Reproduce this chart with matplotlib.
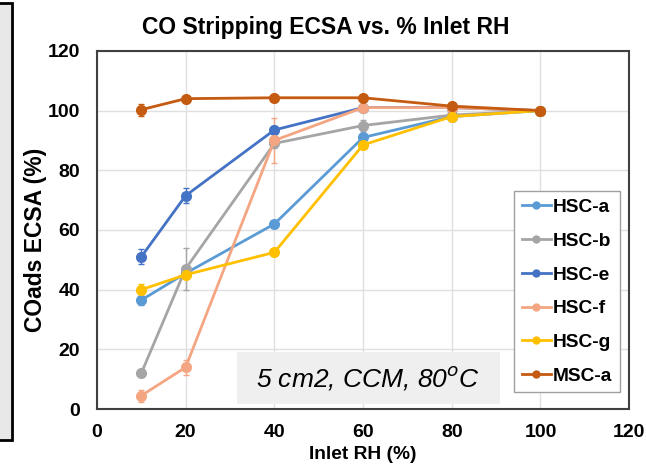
import matplotlib.pyplot as plt
from matplotlib.patches import Rectangle
from matplotlib.lines import Line2D

rh = [10, 20, 40, 60, 80, 100]
names = ["HSC-a", "HSC-b", "HSC-e", "HSC-f", "HSC-g", "MSC-a"]
colors = ["#5B9BD5", "#A5A5A5", "#4472C4", "#F4A582", "#FFC000", "#C55A11"]

hsc_a = [36.5, 45.5, 62, 91, 98, 100]
hsc_b = [12, 47, 89, 95, 98.5, 100]
hsc_e = [51, 71.5, 93.5, 101, 101, 100]
hsc_f = [4.5, 14, 90, 101, 101, 100]
hsc_g = [40, 45, 52.5, 88.5, 98, 100]
msc_a = [100.3, 104, 104.3, 104.3, 101.5, 100]

err_a = [1.5, 1, 1, 1.5, 0.5, 0]
err_b = [1, 7, 1.5, 2, 0.5, 0]
err_e = [2.5, 2.5, 1.5, 1, 0.5, 0]
err_f = [2, 2.5, 7.5, 1, 0.5, 0]
err_g = [2, 1, 1, 1.5, 1, 0]
err_m = [2, 0.5, 0.5, 0.5, 0.5, 0]

series = [hsc_a, hsc_b, hsc_e, hsc_f, hsc_g, msc_a]
errors = [err_a, err_b, err_e, err_f, err_g, err_m]

plt.rcParams["font.family"] = ["Liberation Sans", "DejaVu Sans"]

fig = plt.figure(figsize=(6.46, 4.67), dpi=100)
ax = fig.add_axes([0.150, 0.124, 0.824, 0.767])

handles = []
for name, vals, err, col in zip(names, series, errors, colors):
    ax.errorbar(rh, vals, yerr=err, color=col, marker="o", markersize=7,
                linewidth=2, elinewidth=1, capsize=2.5)
    handles.append(Line2D([], [], color=col, marker="o", markersize=5,
                          linewidth=2, label=name))

ax.set_xlim(0, 120)
ax.set_ylim(0, 120)
ax.set_xticks(range(0, 121, 20))
ax.set_yticks(range(0, 121, 20))
ax.set_xticklabels([str(v) for v in range(0, 121, 20)], fontsize=14, fontweight="bold")
ax.set_yticklabels([str(v) for v in range(0, 121, 20)], fontsize=14, fontweight="bold")
ax.grid(True, color="#e0e0e0", linewidth=1)
ax.set_axisbelow(True)
ax.tick_params(axis="x", length=0, pad=11)
ax.tick_params(axis="y", length=0, pad=12)
for sp in ax.spines.values():
    sp.set_color("#404040")
    sp.set_linewidth(1.5)

ax.set_title("CO Stripping ECSA vs. % Inlet RH", fontsize=16.5, fontweight="bold",
             x=0.43, pad=12)
ax.set_xlabel("Inlet RH (%)", fontsize=13.8, fontweight="bold", labelpad=3)
ax.set_ylabel("COads ECSA (%)", fontsize=16.5, fontweight="bold")
ax.yaxis.set_label_coords(-0.094, 0.472)

leg = ax.legend(handles=handles, loc="lower right", bbox_to_anchor=(1.0, 0.02),
                prop={"weight": "bold", "size": 13.8}, handlelength=1.5,
                handletextpad=0.1, labelspacing=0.85, borderpad=0.4,
                fancybox=False, framealpha=1, edgecolor="#a0a0a0")
leg.get_frame().set_linewidth(1)

ax.add_patch(Rectangle((31.6, 1.7), 59.3, 17.4, facecolor="#efefef",
                       edgecolor="none", zorder=5))
ax.text(61.2, 10.3, "5 cm2, CCM, 80$^{o}$C", fontsize=19, style="italic",
        ha="center", va="center", zorder=6)

# left panel artifact
fig.patches.append(Rectangle((-0.01, 0.058), 0.028, 0.935, transform=fig.transFigure,
                             facecolor="#e8e8e8", edgecolor="black", linewidth=2))

fig.savefig("out.png", dpi=100)
